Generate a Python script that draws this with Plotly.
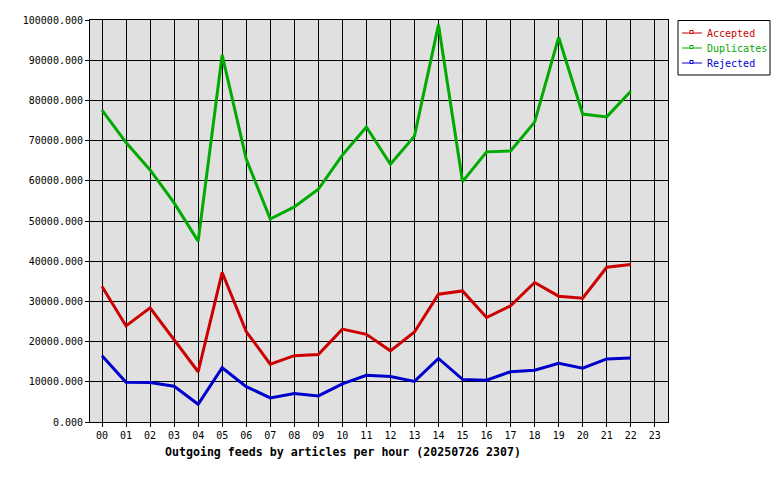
import plotly.graph_objects as go

hours = [f"{h:02d}" for h in range(24)]

accepted = [33700, 23900, 28400, 20400, 12500, 37200, 22500, 14400, 16500, 16800,
            23100, 21800, 17700, 22400, 31800, 32600, 26000, 28900, 34700, 31300,
            30800, 38500, 39200]
duplicates = [77600, 69500, 62700, 54500, 45000, 91300, 65400, 50500, 53500, 57900,
              66400, 73400, 64100, 71100, 98800, 59800, 67200, 67400, 74600, 95700,
              76600, 75900, 82300]
rejected = [16500, 9900, 9800, 8900, 4400, 13500, 8800, 6000, 7100, 6500,
            9500, 11600, 11300, 10100, 15800, 10600, 10400, 12500, 12900, 14600,
            13400, 15700, 15900]

series = [
    ("Accepted", accepted, "#cc0000"),
    ("Duplicates", duplicates, "#00aa00"),
    ("Rejected", rejected, "#0000cc"),
]

# the page body has an 8px margin, so shift the figure up/left by that much
OFF = 8
PL, PT, PW, PH = 90, 20, 578, 402  # plot box in screen pixels


def px(x):
    return (x - PL) / PW


def py(y):
    return (PT + PH - y) / PH


fig = go.Figure()
for name, vals, col in series:
    fig.add_trace(go.Scatter(x=hours[:len(vals)], y=vals, mode="lines", name=name,
                             line=dict(color=col, width=3), showlegend=False,
                             hoverinfo="skip"))

fig.update_xaxes(type="category", categoryorder="array", categoryarray=hours,
                 tickvals=hours, ticktext=hours,
                 range=[-0.5, 23.55], showgrid=True, gridcolor="black", gridwidth=1,
                 showline=True, linecolor="black", linewidth=1, mirror=True,
                 ticks="outside", ticklen=4, tickcolor="black", zeroline=False)
fig.update_yaxes(range=[0, 100000], dtick=10000, tickformat=".3f",
                 showgrid=True, gridcolor="black", gridwidth=1,
                 showline=True, linecolor="black", linewidth=1, mirror=True,
                 ticks="outside", ticklen=4, tickcolor="black", zeroline=False)

fig.add_annotation(text="<b>Outgoing feeds by articles per hour (20250726 2307)</b>",
                   xref="paper", yref="paper", x=px(343), y=py(452),
                   xanchor="center", yanchor="middle", showarrow=False,
                   font=dict(family="DejaVu Sans Mono", size=11.6, color="black"))

# hand drawn legend box like the original
fig.add_shape(type="rect", xref="paper", yref="paper",
              x0=px(678), x1=px(770), y0=py(20.5), y1=py(75),
              line=dict(color="black", width=1), fillcolor="white", layer="above")
for i, (name, vals, col) in enumerate(series):
    yy = 33 + 15 * i
    fig.add_shape(type="line", xref="paper", yref="paper",
                  x0=px(682), x1=px(702), y0=py(yy), y1=py(yy),
                  line=dict(color=col, width=1), layer="above")
    fig.add_shape(type="rect", xref="paper", yref="paper",
                  x0=px(690), x1=px(693), y0=py(yy + 0.5), y1=py(yy - 2.5),
                  line=dict(color=col, width=1), fillcolor="white", layer="above")
    fig.add_annotation(text=name, xref="paper", yref="paper",
                       x=px(705), y=py(yy), xanchor="left", yanchor="middle",
                       showarrow=False,
                       font=dict(family="DejaVu Sans Mono", size=10, color=col))

fig.update_layout(
    width=780, height=480,
    margin=dict(l=PL - OFF, r=780 - (PL - OFF) - PW, t=PT - OFF,
                b=480 - (PT - OFF) - PH, autoexpand=False),
    plot_bgcolor="#e0e0e0", paper_bgcolor="white",
    font=dict(family="DejaVu Sans Mono", size=10, color="black"),
    showlegend=False,
)

fig.write_html("out.html")
